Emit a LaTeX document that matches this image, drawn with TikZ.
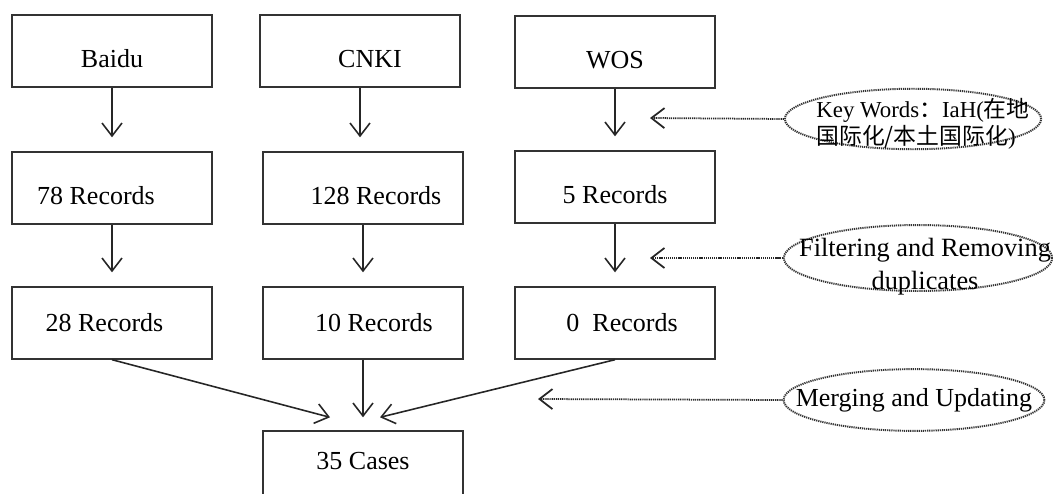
\documentclass[tikz,border=0pt]{standalone}
\usepackage{fontspec}
\setmainfont{Liberation Serif}
\newfontfamily\cjk{Noto Sans CJK SC}
\usetikzlibrary{arrows.meta, shapes.geometric, calc}

\begin{document}
\begin{tikzpicture}[
			x=0.02cm, y=-0.02cm,
			>={Straight Barb[length=2.6mm, width=4mm]},
			every node/.style={
					font=\fontsize{14.8}{17}\selectfont
				},
			box/.style={draw=black!80, line width=0.8pt, minimum width=4cm, minimum height=1.44cm, inner sep=0pt},
			low/.style={text height=19pt, text depth=0pt}, % text sits a bit lower
			note/.style={ellipse, draw=black!80, dash pattern=on 0.7pt off 0.5pt, line width=1.1pt},
			flow/.style={->, line width=0.9pt, black!85},
			hint/.style={->, dash pattern=on 0.7pt off 0.5pt, line width=1pt, black!85}
		]
		\useasboundingbox (0,0) rectangle (1053,493);

		% databases
		\node[box, low] (baidu) at (112,51) {Baidu};
		\node[box, low] (cnki) at (360,51) {\hspace*{0.4cm}CNKI};
		\node[box, low] (wos) at (615,52) {WOS};

		% first search
		\node[box, low] (r78) at (112,188) {\hspace*{-0.64cm}78 Records};
		\node[box, low] (r128) at (363,188) {\hspace*{0.52cm}128 Records};
		\node[box, low] (r5) at (615,187) {5 Records};

		% after filtering
		\node[box] (r28) at (112,323) {\hspace*{-0.3cm}28 Records};
		\node[box] (r10) at (363,323) {\hspace*{0.44cm}10 Records};
		\node[box] (r0) at (615,323) {\hspace*{0.28cm}0\ \ Records};

		\node[box, minimum height=1.6cm, text height=1.5ex, text depth=0.25ex+0.28cm] (cases) at (363,471) {35 Cases};

		% steps
		\node[note, align=left, inner xsep=-0.52cm, inner ysep=-0.18cm,
			font=\fontsize{13}{15.3}\selectfont] (kw) at (913,119)
		{\hspace*{0.4cm}\rule{0pt}{0.58cm}Key Words{\cjk：}IaH({\cjk 在地}\\\hspace*{0.4cm}{\cjk 国际化/本土国际化})};
		\node[note, align=center, inner xsep=-0.76cm, inner ysep=-0.27cm,
			font=\fontsize{15}{18.5}\selectfont] (filter) at (918,258)
		{\hspace*{0.28cm}\rule{0pt}{0.71cm}Filtering and Removing\\\hspace*{0.28cm}duplicates};
		\node[note, inner xsep=-0.52cm, inner ysep=0.2cm] (merge) at (914,400) {Merging and Updating};

		\coordinate (kwtip) at (650,118);
		\coordinate (filtertip) at (650,258);
		\coordinate (mergetip) at (538,399);
		\coordinate (inL) at ($(cases.north)+(-33,-13)$);
		\coordinate (inR) at ($(cases.north)+(17,-13)$);

		\foreach \a/\b in {baidu/r78, cnki/r128, wos/r5, r78/r28, r128/r10, r5/r0}
		\draw[flow, shorten >=0.28cm] (\a.south) -- (\a.south |- \b.north);

		\draw[flow] (r28.south) -- (inL);
		\draw[flow, shorten >=0.26cm] (r10.south) -- (cases.north);
		\draw[flow] (r0.south) -- (inR);

		\draw[hint] (kw.west) -- (kwtip);
		\draw[hint] (filter.west) -- (filtertip);
		\draw[hint] (merge.west) -- (mergetip);
	\end{tikzpicture}
\end{document}
